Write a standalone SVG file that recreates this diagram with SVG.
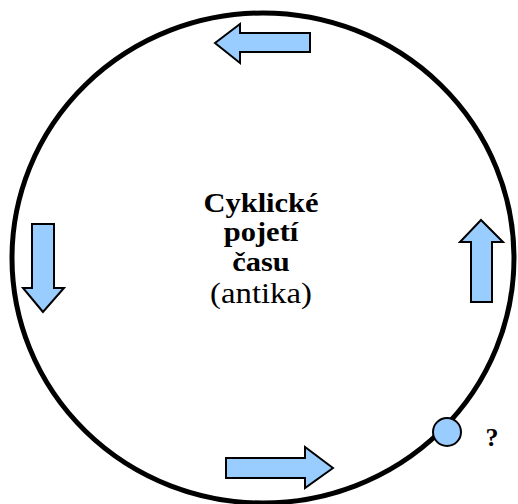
<svg xmlns="http://www.w3.org/2000/svg" width="518" height="504" viewBox="0 0 518 504">
<style>
.arr{fill:#99ccff;stroke:#000;stroke-width:2;stroke-linejoin:miter}
text{font-family:'Liberation Serif','Times New Roman','DejaVu Serif',serif;text-anchor:middle;fill:#000}
.b{font-weight:bold;font-size:27px}
.r{font-size:29px}
.q{font-weight:bold;font-size:26px}
</style>
<rect width="518" height="504" fill="#fff"/>
<g id="cycle">
<ellipse cx="263" cy="258" rx="251" ry="245" fill="none" stroke="#000" stroke-width="5"/>
</g>
<g id="connectors">
<polygon id="arrow-top" class="arr" points="215,43 240,24 240,33 310,33 310,52 240,52 240,63"/>
<polygon id="arrow-left" class="arr" points="43,312 23,288 32,288 32,224 54,224 54,288 64,288"/>
<polygon id="arrow-bottom" class="arr" points="333,468 305,447 305,458 226,458 226,478 305,478 305,488"/>
<polygon id="arrow-right" class="arr" points="481,220 460,242 471,242 471,302 492,302 492,242 503,242"/>
</g>
<g id="center">
<g transform="translate(261,0) scale(1.13,1)">
<text class="b" x="0" y="212">Cyklické</text>
<text class="b" x="0" y="241">pojetí</text>
<text class="b" x="0" y="271">času</text>
<text class="r" x="0" y="303">(antika)</text>
</g>
</g>
<g id="marker">
<circle cx="447" cy="432" r="14" fill="#99ccff" stroke="#000" stroke-width="2"/>
<text class="q" x="492" y="446">?</text>
</g>
</svg>
